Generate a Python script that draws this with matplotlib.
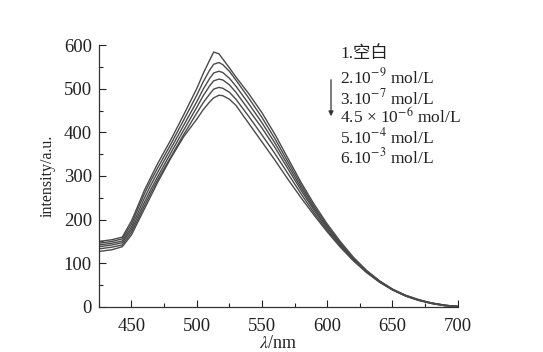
import matplotlib
matplotlib.use("Agg")
import matplotlib.pyplot as plt
from matplotlib.ticker import MultipleLocator
from matplotlib.patches import FancyArrowPatch

plt.rcParams['font.family'] = ['Liberation Serif', 'Noto Sans CJK SC']
plt.rcParams['mathtext.fontset'] = 'stix'

wavelength = [425, 435, 443, 450, 455, 460, 465, 470, 480, 490, 500, 505, 510, 513, 517,
              520, 525, 530, 540, 550, 560, 570, 580, 590, 600, 610, 620, 630, 640, 650,
              660, 670, 680, 690, 700]

s1 = [150, 154, 160, 197, 232, 268, 298, 328, 382, 440, 500, 535, 566, 584, 580,
      568, 548, 527, 488, 445, 395, 340, 285, 235, 190, 150, 114, 84, 60, 41,
      27, 17, 9, 4, 1]
s2 = [146, 150, 156, 190, 225, 260, 290, 318, 372, 428, 485, 516, 543, 556, 560,
      555, 540, 520, 478, 434, 385, 332, 279, 230, 186, 147, 112, 83, 59, 40,
      26, 16, 9, 4, 1]
s3 = [142, 146, 151, 183, 216, 250, 280, 308, 362, 416, 470, 499, 524, 536, 540,
      537, 524, 506, 465, 422, 375, 324, 273, 225, 182, 144, 110, 82, 59, 40,
      26, 16, 9, 4, 1]
s4 = [138, 142, 147, 177, 208, 240, 270, 298, 352, 405, 457, 484, 507, 518, 522,
      520, 509, 492, 451, 410, 365, 316, 267, 221, 179, 142, 109, 81, 58, 40,
      26, 16, 8, 3, 1]
s5 = [133, 137, 142, 171, 201, 232, 262, 291, 343, 395, 444, 468, 488, 499, 503,
      501, 492, 476, 436, 394, 351, 305, 259, 215, 175, 139, 107, 80, 57, 39,
      25, 15, 8, 3, 1]
s6 = [127, 131, 138, 165, 195, 225, 255, 285, 340, 390, 430, 452, 470, 479, 485,
      484, 476, 462, 420, 378, 336, 292, 250, 210, 172, 137, 106, 79, 57, 39,
      25, 15, 8, 3, 1]
series = [s1, s2, s3, s4, s5, s6]

legend_labels = ['1.空白',
                 r'2.10$^{-9}$ mol/L',
                 r'3.10$^{-7}$ mol/L',
                 r'4.5 × 10$^{-6}$ mol/L',
                 r'5.10$^{-4}$ mol/L',
                 r'6.10$^{-3}$ mol/L']

fig = plt.figure(figsize=(5.43, 3.52), dpi=100)
ax = fig.add_axes([0.182, 0.128, 0.661, 0.744])

for s in series:
    ax.plot(wavelength, s, color='#4a4a4a', lw=1.0)

ax.set_xlim(425, 700)
ax.set_ylim(0, 600)
ax.xaxis.set_major_locator(MultipleLocator(50))
ax.xaxis.set_minor_locator(MultipleLocator(25))
ax.yaxis.set_major_locator(MultipleLocator(100))
ax.yaxis.set_minor_locator(MultipleLocator(50))
ax.tick_params(which='major', direction='in', length=5, width=0.8, labelsize=13.5, colors='#222222')
ax.tick_params(which='minor', direction='in', length=3, width=0.8, colors='#222222')
ax.tick_params(axis='x', pad=8)
ax.tick_params(axis='y', pad=5)
for sp in ['top', 'right']:
    ax.spines[sp].set_visible(False)
for sp in ['left', 'bottom']:
    ax.spines[sp].set_color('#333333')
    ax.spines[sp].set_linewidth(0.9)

ax.set_xlabel(r'$\lambda$/nm', fontsize=13, labelpad=0, color='#222222')
ax.set_ylabel('intensity/a.u.', fontsize=11.5, labelpad=6, color='#222222')

ypos = [54, 77, 98, 117, 137, 157]
for lab, yp in zip(legend_labels, ypos):
    fig.text(340 / 543, 1 - yp / 352, lab, fontsize=12.5, va='center', ha='left', color='#222222')

fig.add_artist(FancyArrowPatch(
    (331 / 543, 1 - 77 / 352), (331 / 543, 1 - 119 / 352),
    transform=fig.transFigure, arrowstyle='-|>', mutation_scale=7, color='#333333', lw=0.9))

fig.savefig('out.png', dpi=100)
